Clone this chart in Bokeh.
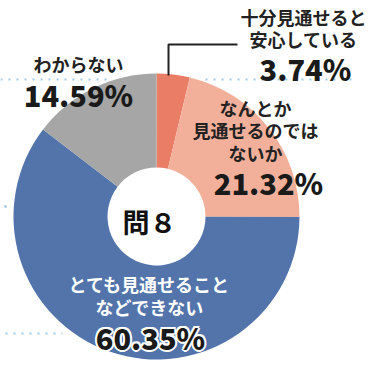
import math
from bokeh.plotting import figure
from bokeh.models import Range1d
from bokeh.core.properties import value
from bokeh.embed import file_html
from bokeh.resources import INLINE

# ---- data ----
categories = ["十分見通せると\n安心している", "なんとか\n見通せるのでは\nないか",
              "とても見通せること\nなどできない", "わからない"]
values = [3.74, 21.32, 60.35, 14.59]
center_title = "問８"

# ---- styles / layout ----
colors = ["#E97D66", "#F2B09A", "#5274AB", "#A6A6A6"]
CX, CY = 156, 216          # pixel centre of the donut
R_OUT, R_IN = 143, 49
FONT = "Noto Sans CJK JP"
PFONT = "'Noto Sans CJK JP Black', 'Noto Sans CJK JP'"
label_layout = [
    dict(x=303, y=16, gap=22, color="#222222", px=305, py=67, lsize="18px", psize="29px", outline=False),
    dict(x=255, y=107, gap=22.5, color="#222222", px=268, py=181, lsize="18px", psize="29px", outline=False),
    dict(x=149, y=283, gap=23.5, color="#ffffff", px=150, py=336, lsize="18px", psize="29px", outline=True),
    dict(x=78, y=63, gap=22, color="#222222", px=78, py=93, lsize="18px", psize="29px", outline=False),
]

W, H = 379, 366
p = figure(width=W, height=H, x_range=Range1d(0, W), y_range=Range1d(0, H),
           output_backend="svg", toolbar_location=None, min_border=0)
p.axis.visible = False
p.grid.visible = False
p.outline_line_color = None
p.background_fill_color = "white"


def Y(py):
    return H - py


# dotted guide lines (background artifacts)
dot_color = "#9fc9e6"
for xs, yy in [((0, 110), 79), ((205, 353), 79), ((5, 62), 333)]:
    p.line(list(xs), [Y(yy), Y(yy)], line_color=dot_color, line_width=2, line_dash="2 6")
p.scatter([5], [Y(206)], size=2, color=dot_color)

# donut
starts, ends = [], []
cum = 0.0
for v in values:
    starts.append(math.pi / 2 - 2 * math.pi * cum / 100)
    cum += v
    ends.append(math.pi / 2 - 2 * math.pi * cum / 100)
p.annular_wedge(x=[CX] * len(values), y=[Y(CY)] * len(values), inner_radius=R_IN, outer_radius=R_OUT,
                start_angle=starts, end_angle=ends, direction="clock",
                fill_color=colors, line_color=None)

# leader line for the small slice
p.line([168, 168, 237], [Y(75), Y(44), Y(44)], line_color="#222222", line_width=2)

# labels
offs = [(-2, 0), (2, 0), (0, -2), (0, 2), (-1.5, -1.5), (1.5, -1.5), (-1.5, 1.5), (1.5, 1.5)]
for cat, v, lay in zip(categories, values, label_layout):
    lines = cat.split("\n")
    p.text(x=[lay["x"]] * len(lines), y=[Y(lay["y"] + i * lay["gap"]) for i in range(len(lines))],
           text=lines, text_align="center", text_baseline="middle",
           text_font=value(FONT), text_font_size=lay["lsize"], text_font_style="bold",
           text_color=lay["color"])
    pct = f"{v:.2f}%"
    if lay["outline"]:
        # white halo underneath
        p.text(x=[lay["px"]] * len(offs), y=[Y(lay["py"])] * len(offs), text=[pct] * len(offs),
               x_offset=[o[0] for o in offs], y_offset=[o[1] for o in offs],
               text_align="center", text_baseline="middle", text_font=value(PFONT),
               text_font_size=lay["psize"], text_font_style="bold", text_color="#ffffff")
    p.text(x=[lay["px"]], y=[Y(lay["py"])], text=[pct], text_align="center",
           text_baseline="middle", text_font=value(PFONT), text_font_size=lay["psize"],
           text_font_style="bold", text_color="#1a1a1a")

p.text(x=[149], y=[Y(221)], text=[center_title], text_align="center", text_baseline="middle",
       text_font=value(FONT), text_font_size="27px", text_font_style="bold", text_color="#111111")

open("out.html", "w").write(file_html(p, INLINE))
